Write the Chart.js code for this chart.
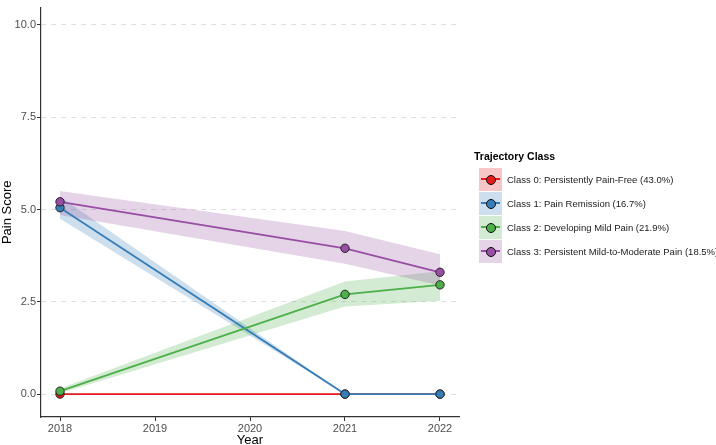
<!DOCTYPE html>
<html>
<head>
<meta charset="utf-8">
<script src="https://cdn.jsdelivr.net/npm/chart.js@4"></script>
<style>
  html, body { margin:0; padding:0; background:#fff; }
  #wrap { position:relative; width:716px; height:445px; font-family:"Liberation Sans", Arial, sans-serif; }
  #legend { position:absolute; left:474px; top:150px; }
  #legend .title { font-weight:bold; font-size:10.5px; color:#000; margin-bottom:5px; }
  .row { display:flex; align-items:center; height:24px; }
  .key { position:relative; width:23px; height:23px; margin-left:5px; margin-right:5px; }
  .key .ln { position:absolute; left:2px; right:2px; top:10.5px; height:2px; }
  .key .pt { position:absolute; left:6.5px; top:7px; width:8px; height:8px; border-radius:50%; border:1px solid #111; }
  .lab { font-size:9.5px; color:#1a1a1a; white-space:nowrap; }
</style>
</head>
<body>
<div id="wrap">
  <canvas id="c" width="716" height="445"></canvas>
  <div id="legend"></div>
</div>
<script>
const years = [2018, 2021, 2022];
const classNames = [
  "Class 0: Persistently Pain-Free (43.0%)",
  "Class 1: Pain Remission (16.7%)",
  "Class 2: Developing Mild Pain (21.9%)",
  "Class 3: Persistent Mild-to-Moderate Pain (18.5%)"
];
const class0 = [0, 0, 0];
const class0Lo = [0, 0, 0];
const class0Hi = [0, 0, 0];
const class1 = [5.05, 0, 0];
const class1Lo = [4.75, 0, 0];
const class1Hi = [5.35, 0, 0];
const class2 = [0.08, 2.70, 2.96];
const class2Lo = [0.02, 2.37, 2.53];
const class2Hi = [0.15, 3.05, 3.33];
const class3 = [5.21, 3.95, 3.30];
const class3Lo = [4.85, 3.53, 2.94];
const class3Hi = [5.50, 4.42, 3.79];
const yTicks = [0, 2.5, 5, 7.5, 10];
const xTicks = [2018, 2019, 2020, 2021, 2022];

const colors = ["#E41A1C", "#377EB8", "#4DAF4A", "#984EA3"];
const bandColors = ["rgba(228,26,28,0.25)", "rgba(55,126,184,0.25)", "rgba(77,175,74,0.25)", "rgba(152,78,163,0.25)"];
const keyBg = ["#f8c6c6", "#cddfee", "#d3ebd2", "#e5d3e8"];

const means = [class0, class1, class2, class3];
const los = [class0Lo, class1Lo, class2Lo, class3Lo];
const his = [class0Hi, class1Hi, class2Hi, class3Hi];
const pts = arr => years.map((x, i) => ({x: x, y: arr[i]}));

const datasets = [];
for (let k = 0; k < 4; k++) {
  const idx = datasets.length;
  datasets.push({
    data: pts(his[k]), borderWidth: 0, pointRadius: 0, showLine: true,
    fill: {target: idx + 1}, backgroundColor: bandColors[k], borderColor: 'rgba(0,0,0,0)',
    tension: 0, order: 20 - k
  });
  datasets.push({
    data: pts(los[k]), borderWidth: 0, pointRadius: 0, showLine: true,
    fill: false, borderColor: 'rgba(0,0,0,0)', backgroundColor: 'rgba(0,0,0,0)',
    tension: 0, order: 20 - k
  });
}
for (let k = 0; k < 4; k++) {
  datasets.push({
    label: classNames[k], data: pts(means[k]), showLine: true, fill: false,
    borderColor: colors[k], borderWidth: 1.8, tension: 0,
    pointRadius: 4.2, pointBackgroundColor: colors[k], pointBorderColor: '#1a1a1a', pointBorderWidth: 0.9,
    order: 10 - k
  });
}

new Chart(document.getElementById('c'), {
  type: 'scatter',
  data: { datasets },
  options: {
    responsive: false, animation: false,
    layout: { padding: { left: 0, right: 257, top: 0, bottom: 0 } },
    plugins: { legend: { display: false }, tooltip: { enabled: false } },
    scales: {
      x: {
        type: 'linear', min: 2017.8, max: 2022.2,
        afterBuildTicks: s => { s.ticks = xTicks.map(v => ({value: v})); },
        afterFit: s => { s.height = 28; },
        ticks: { color: '#4d4d4d', font: { family: 'Liberation Sans', size: 11 }, padding: 1, maxRotation: 0,
                 callback: v => String(v) },
        grid: { drawOnChartArea: false, drawTicks: true, tickLength: 4, tickColor: '#333', tickWidth: 1 },
        border: { color: '#333', width: 1.2 },
        title: { display: true, text: 'Year', color: '#000', font: { family: 'Liberation Sans', size: 13, lineHeight: 1 }, padding: { top: 0, bottom: -2 } }
      },
      y: {
        type: 'linear', min: -0.62, max: 10.47,
        afterBuildTicks: s => { s.ticks = yTicks.map(v => ({value: v})); },
        afterFit: s => { s.width = 41; },
        ticks: { color: '#4d4d4d', font: { family: 'Liberation Sans', size: 11 }, padding: 1,
                 callback: v => Number(v).toFixed(1) },
        grid: { color: '#dedede', lineWidth: 1, drawTicks: true, tickLength: 4, tickColor: '#333', tickWidth: 1, tickBorderDash: [] },
        border: { color: '#333', width: 1.2, dash: [5, 5] },
        title: { display: true, text: 'Pain Score', color: '#000', font: { family: 'Liberation Sans', size: 13 }, padding: { top: 0, bottom: 0 } }
      }
    }
  }
});

const lg = document.getElementById('legend');
let html = '<div class="title">Trajectory Class</div>';
for (let k = 0; k < 4; k++) {
  html += '<div class="row"><div class="key" style="background:' + keyBg[k] + '">' +
          '<div class="ln" style="background:' + colors[k] + '"></div>' +
          '<div class="pt" style="background:' + colors[k] + '"></div></div>' +
          '<div class="lab">' + classNames[k] + '</div></div>';
}
lg.innerHTML = html;
</script>
</body>
</html>
